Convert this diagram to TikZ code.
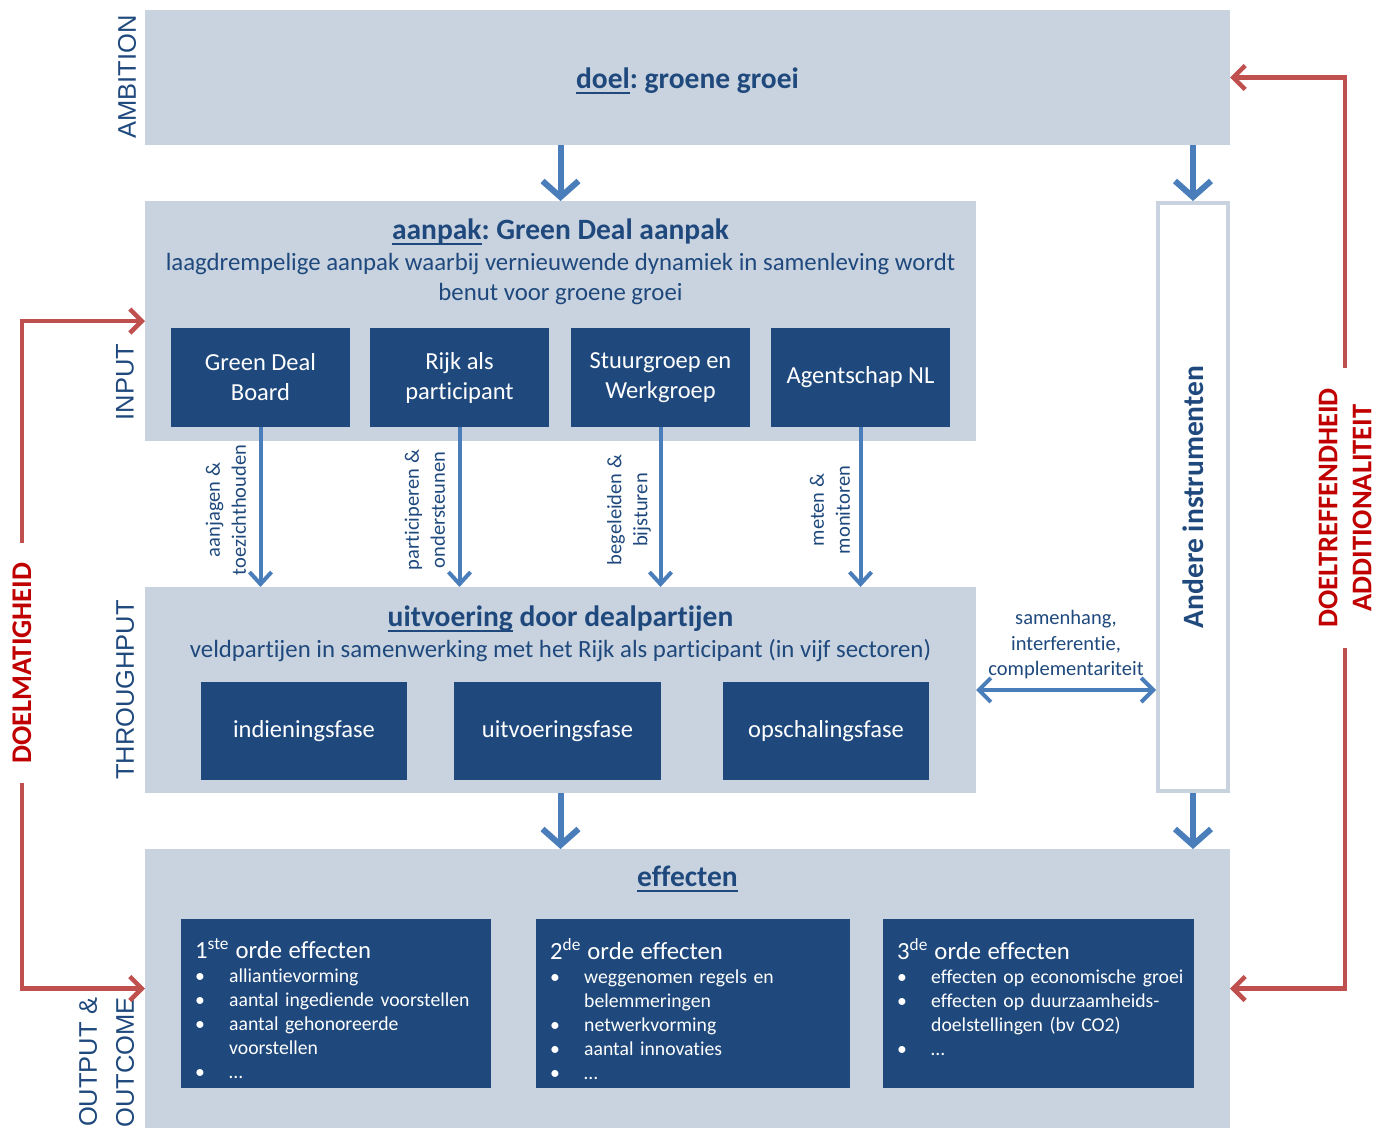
\documentclass[tikz,border=0pt]{standalone}
\usepackage{fontspec}
\setmainfont{Carlito}[Ligatures=NoCommon]
\newfontfamily\arialfont{Liberation Sans}
\usetikzlibrary{arrows.meta,positioning}

\definecolor{boxbg}{RGB}{200,211,223}
\definecolor{dealblue}{RGB}{31,73,125}
\definecolor{txtblue}{RGB}{31,73,125}
\definecolor{arrblue}{RGB}{74,126,187}
\definecolor{arrred}{RGB}{192,80,77}
\definecolor{txtred}{RGB}{192,0,0}

\newcommand\tul[1]{\setbox0\hbox{#1}\rlap{\rule[-5pt]{\wd0}{2pt}}\box0\relax}
\newcommand\efftitle[1]{{\fontsize{24.7}{26}\selectfont #1\par}\vspace{0pt}}
\newcommand\effitem[1]{\par\noindent\makebox[34pt][l]{\textbullet}#1\par}
\newcommand\effmore[1]{\par\noindent\hspace*{34pt}#1\par}

\tikzset{
  lightbox/.style={fill=boxbg, inner sep=0, outer sep=0, anchor=north west},
  dealbox/.style={fill=dealblue, text=white, align=center, inner sep=0, outer sep=0,
    font=\fontsize{24.5}{30}\selectfont},
  ttl/.style={text=txtblue, inner sep=0, font=\frenchspacing\bfseries\fontsize{29.5}{34}\selectfont},
  sub/.style={text=txtblue, align=center, inner sep=0, font=\fontsize{24.8}{30}\selectfont},
  arrlbl/.style={rotate=90, text=txtblue, align=center, inner sep=0, font=\fontsize{20.5}{26}\selectfont},
  sidelbl/.style={rotate=90, text=txtblue, inner sep=0, font=\arialfont\fontsize{25.5}{30}\selectfont},
  redlbl/.style={rotate=90, text=txtred, align=center, inner xsep=20pt, inner ysep=2pt,
    font=\bfseries\fontsize{28.5}{34}\selectfont},
  efftxt/.style={text=white, text width=300, align=left, anchor=north west, inner sep=0,
    font=\fontsize{19.7}{24}\selectfont},
  bigarr/.style={draw=arrblue, line width=6pt, -{Straight Barb[length=16pt,width=36pt]}},
  smallarr/.style={draw=arrblue, line width=4pt, -{Straight Barb[length=12pt,width=22pt]}},
  dblarr/.style={draw=arrblue, line width=4pt,
    {Straight Barb[length=12pt,width=24pt]}-{Straight Barb[length=12pt,width=24pt]}},
  redarr/.style={draw=arrred, line width=4.5pt, -{Straight Barb[length=12pt,width=24pt]}}
}

\begin{document}
\begin{tikzpicture}[x=1pt, y=-1pt]
\useasboundingbox (0,0) rectangle (1386,1128);

% Layer backgrounds
\node[lightbox, minimum width=1085, minimum height=135] (doel) at (145,10) {};
\node[lightbox, minimum width=831, minimum height=240] (aanpak) at (145,201) {};
\node[lightbox, minimum width=831, minimum height=206] (uitv) at (145,587) {};
\node[lightbox, minimum width=1085, minimum height=279] (effecten) at (145,849) {};
\node[draw=boxbg, line width=4pt, fill=white, inner sep=0,
  minimum width=70, minimum height=588] (andere) at (1193,497) {};

% Ambition
\node[ttl] (doeltxt) at (687.5,81) {\tul{doel}: groene groei};

% Input
\node[ttl] (aanpaktxt) at (560.5,232) {\tul{aanpak}: Green Deal aanpak};
\node[sub] (aanpaksub) at (560.5,279) {laagdrempelige aanpak waarbij vernieuwende dynamiek in samenleving wordt\\benut voor groene groei};
\foreach \nm/\x/\txt/\lbl/\lx in {
    board/260.5/{Green Deal\\Board}/{aanjagen \&\\toezichthouden}/226,
    rijk/459.5/{Rijk als\\participant}/{participeren \&\\ondersteunen}/425,
    stuur/660.5/{Stuurgroep en\\Werkgroep}/{begeleiden \&\\bijsturen}/629,
    agent/860.5/{Agentschap NL}/{meten \&\\monitoren}/830} {
  \node[dealbox, minimum width=179, minimum height=99] (\nm) at (\x,377.5) {\txt};
  \draw[smallarr] (\nm.south) -- (\nm.south |- uitv.north);
  \node[arrlbl] (\nm-lbl) at (\lx,510) {\lbl};
}

% Throughput
\node[ttl] (uitvtxt) at (560.5,619) {\tul{uitvoering} door dealpartijen};
\node[sub] (uitvsub) at (560.5,651) {veldpartijen in samenwerking met het Rijk als participant (in vijf sectoren)};
\foreach \nm/\x/\w/\txt in {indien/304/206/indieningsfase,
    uitvfase/557.5/207/uitvoeringsfase, opschaal/826/206/opschalingsfase}
  \node[dealbox, minimum width=\w, minimum height=98] (\nm) at (\x,731) {\txt};

% Andere instrumenten
\node[ttl, rotate=90] (anderetxt) at (andere.center) {Andere instrumenten};
\draw[dblarr] (uitv.east) -- (uitv.east -| andere.west);
\node[sub, font=\fontsize{20.5}{25.5}\selectfont] (samenhang) at (1066,645)
  {samenhang,\\interferentie,\\complementariteit};

% Blue arrows between layers
\draw[bigarr] (doel.south -| aanpak.north) -- (aanpak.north);
\draw[bigarr] (doel.south -| andere.north) -- (andere.north);
\draw[bigarr] (uitv.south) -- (uitv.south |- effecten.north);
\draw[bigarr] (andere.south) -- (andere.south |- effecten.north);

% Effecten
\node[ttl] (efftxt) at (687.5,879) {\tul{effecten}};
\node[dealbox, minimum width=310, minimum height=169] (eff1) at (336,1003.5) {};
\node[dealbox, minimum width=314, minimum height=169] (eff2) at (693,1003.5) {};
\node[dealbox, minimum width=311, minimum height=169] (eff3) at (1038.5,1003.5) {};
\node[efftxt] (eff1txt) at ([shift={(14,19)}]eff1.north west) {%
  \efftitle{1\textsuperscript{ste} orde effecten}%
  \effitem{alliantievorming}%
  \effitem{aantal ingediende voorstellen}%
  \effitem{aantal gehonoreerde}%
  \effmore{voorstellen}%
  \effitem{…}};
\node[efftxt] (eff2txt) at ([shift={(14,19)}]eff2.north west) {%
  \efftitle{2\textsuperscript{de} orde effecten}%
  \effitem{weggenomen regels en}%
  \effmore{belemmeringen}%
  \effitem{netwerkvorming}%
  \effitem{aantal innovaties}%
  \effitem{…}};
\node[efftxt] (eff3txt) at ([shift={(14,19)}]eff3.north west) {%
  \efftitle{3\textsuperscript{de} orde effecten}%
  \effitem{effecten op economische groei}%
  \effitem{effecten op duurzaamheids-}%
  \effmore{doelstellingen (bv CO2)}%
  \effitem{…}};

% Side labels
\node[sidelbl] (ambition) at (127,77) {AMBITION};
\node[sidelbl] (input) at (125,382) {INPUT};
\node[sidelbl] (throughput) at (125,690) {THROUGHPUT};
\node[sidelbl, align=center, anchor=east, font=\arialfont\fontsize{25.5}{37}\selectfont]
  (output) at (106.5,997) {OUTPUT \&\\OUTCOME};

% Red feedback arrows
\node[redlbl] (doelmatig) at (22,663) {DOELMATIGHEID};
\draw[redarr] (doelmatig.east) |- (aanpak.west);
\draw[redarr] (doelmatig.west) |- (effecten.west);
\node[redlbl] (doeltref) at (1345,508) {DOELTREFFENDHEID\\ADDITIONALITEIT};
\draw[redarr] (doeltref.east) |- (doel.east);
\draw[redarr] (doeltref.west) |- (effecten.east);
\end{tikzpicture}
\end{document}
